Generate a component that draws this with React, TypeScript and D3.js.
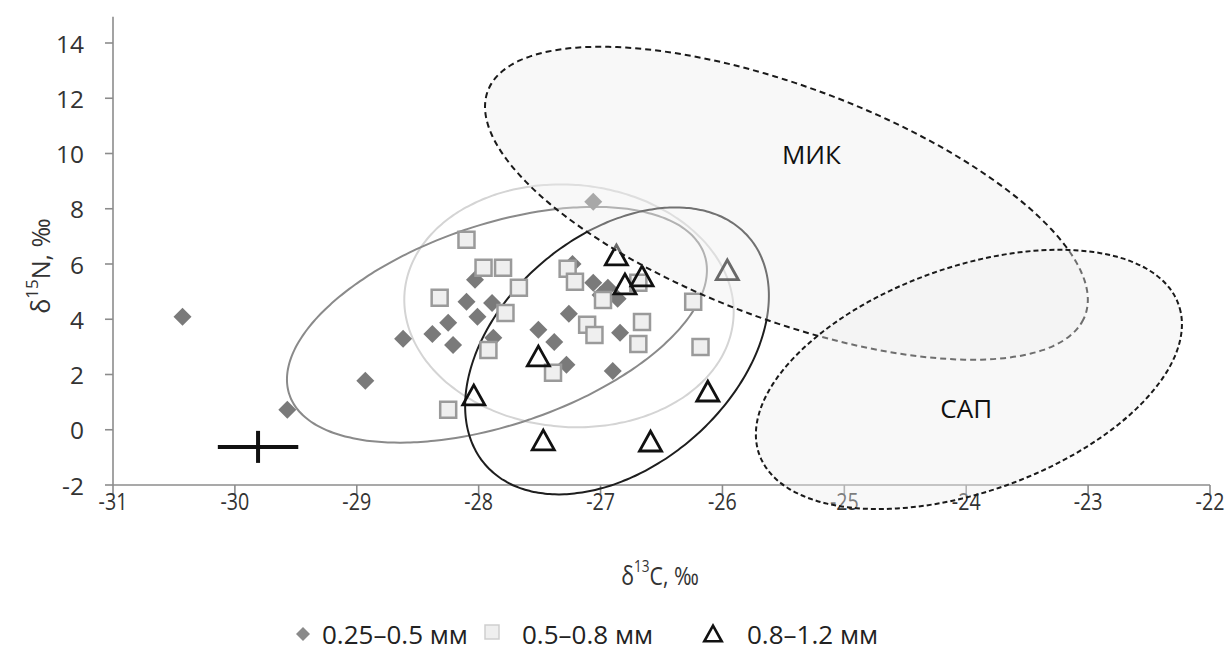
import React from "react";
import * as d3 from "d3";

// δ13C / δ15N per fraction size
const fineC = [-30.43, -29.57, -28.93, -28.62, -28.38, -28.25, -28.21, -28.10, -28.03, -28.01, -27.89, -27.88, -27.06, -27.51, -27.38, -27.28, -27.26, -27.23, -27.06, -27.0, -26.94, -26.86, -26.84, -26.90];
const fineN = [4.09, 0.72, 1.77, 3.29, 3.47, 3.87, 3.07, 4.63, 5.43, 4.09, 4.59, 3.33, 8.25, 3.62, 3.18, 2.35, 4.20, 6.0, 5.32, 4.88, 5.14, 4.74, 3.51, 2.13];

const midC = [-28.10, -28.32, -28.25, -27.96, -27.80, -27.67, -27.78, -27.92, -27.39, -27.27, -27.21, -26.98, -26.69, -27.11, -27.05, -26.66, -26.69, -26.24, -26.18];
const midN = [6.88, 4.78, 0.72, 5.86, 5.86, 5.14, 4.23, 2.89, 2.06, 5.83, 5.36, 4.70, 5.32, 3.80, 3.43, 3.90, 3.10, 4.63, 3.0];

const coarseC = [-28.04, -27.51, -26.87, -26.80, -26.66, -25.96, -26.12, -27.47, -26.59];
const coarseN = [1.19, 2.60, 6.26, 5.21, 5.50, 5.72, 1.33, -0.44, -0.48];

// analytical error: mean point with ± bars
const errC = -29.81;
const errN = -0.62;
const errDC = 0.33;
const errDN = 0.58;

const xTicks = [-31, -30, -29, -28, -27, -26, -25, -24, -23, -22];
const yTicks = [-2, 0, 2, 4, 6, 8, 10, 12, 14];

// ellipses: centre, end of one semi-axis, end of the conjugate semi-axis (data units)
const ellFine = { c: [-27.85, 3.80], u: [-26.147, 6.326], v: [-27.59, 0.36] };
const ellMid = { c: [-27.259, 4.486], u: [-25.910, 4.018], v: [-27.336, 0.116] };
const ellCoarse = { c: [-26.865, 2.855], u: [-25.783, 6.967], v: [-26.247, -0.319] };
const ellMik = { c: [-25.475, 8.199], u: [-23.025, 4.134], v: [-25.810, 4.254] };
const ellSap = { c: [-23.978, 1.822], u: [-22.258, 4.536], v: [-23.668, -2.007] };

const regionLabels = [
  { name: "МИК", c: -25.27, n: 9.97 },
  { name: "САП", c: -24.0, n: 0.8 },
];

const legendItems = ["0.25–0.5 мм", "0.5–0.8 мм", "0.8–1.2 мм"];

const W = 1232;
const H = 653;

const x = d3.scaleLinear().domain([-31, -22]).range([113, 1210]);
const y = d3.scaleLinear().domain([-2, 14]).range([485, 43]);

type Ell = { c: number[]; u: number[]; v: number[] };

function ellipsePath(e: Ell): string {
  const cx = x(e.c[0]);
  const cy = y(e.c[1]);
  const ux = x(e.u[0]) - cx;
  const uy = y(e.u[1]) - cy;
  const vx = x(e.v[0]) - cx;
  const vy = y(e.v[1]) - cy;
  const pts: [number, number][] = d3.range(0, 360, 2).map((deg) => {
    const t = (deg * Math.PI) / 180;
    return [cx + Math.cos(t) * ux + Math.sin(t) * vx, cy + Math.cos(t) * uy + Math.sin(t) * vy];
  });
  return d3.line().curve(d3.curveCardinalClosed)(pts) || "";
}

const diamond = (s: number) => `M0,${-s}L${s},0L0,${s}L${-s},0Z`;
const square = (s: number) => `M${-s},${-s}H${s}V${s}H${-s}Z`;
const triangle = (s: number) => `M0,${-s * 0.62}L${s * 0.58},${s * 0.42}L${-s * 0.58},${s * 0.42}Z`;

const textFont = "'Open Sans', 'Noto Sans', sans-serif";

export default function App() {
  const fine = fineC.map((c, i) => [c, fineN[i]]);
  const mid = midC.map((c, i) => [c, midN[i]]);
  const coarse = coarseC.map((c, i) => [c, coarseN[i]]);

  return (
    <svg
      width={W}
      height={H}
      style={{ position: "absolute", left: 0, top: 0, background: "#fff" }}
    >
      {/* axes */}
      <g stroke="#8c8c8c" strokeWidth={1.6}>
        <line x1={x(-31)} x2={x(-31)} y1={y(-2)} y2={y(14.95)} />
        <line x1={x(-31)} x2={x(-22)} y1={y(-2)} y2={y(-2)} />
        {yTicks.map((t) => (
          <line key={"yt" + t} x1={x(-31) - 8} x2={x(-31)} y1={y(t)} y2={y(t)} />
        ))}
        {xTicks.map((t) => (
          <line key={"xt" + t} x1={x(t)} x2={x(t)} y1={y(-2)} y2={y(-2) + 9} />
        ))}
      </g>
      <g fontFamily={textFont} fontSize={24.5} fill="#333">
        {yTicks.map((t) => (
          <text key={"yl" + t} x={x(-31) - 29} y={y(t)} textAnchor="end" dominantBaseline="central">
            {t}
          </text>
        ))}
      </g>
      <g fontFamily={textFont} fontSize={24} fill="#333">
        {xTicks.map((t) => (
          <text
            key={"xl" + t}
            transform={`translate(${x(t)},${y(-2) + 16}) scale(0.82,1)`}
            textAnchor="middle"
            dominantBaseline="central"
          >
            {t}
          </text>
        ))}
      </g>
      <text
        transform="translate(660,575) scale(0.85,1)"
        textAnchor="middle"
        dominantBaseline="central"
        fontFamily={textFont}
        fontSize={25}
        fill="#333"
      >
        δ<tspan fontSize={16} dy={-9}>13</tspan>
        <tspan dy={9}>C, ‰</tspan>
      </text>
      <text
        transform={`translate(40,266) rotate(-90)`}
        textAnchor="middle"
        dominantBaseline="central"
        fontFamily={textFont}
        fontSize={25}
        fill="#333"
      >
        δ<tspan fontSize={17} dy={-9}>15</tspan>
        <tspan dy={9}>N, ‰</tspan>
      </text>

      {/* group ellipses */}
      <path d={ellipsePath(ellMid)} fill="none" stroke="#d4d4d4" strokeWidth={2} />
      <path d={ellipsePath(ellFine)} fill="none" stroke="#8a8a8a" strokeWidth={2} />
      <path d={ellipsePath(ellCoarse)} fill="none" stroke="#1e1e1e" strokeWidth={2} />

      {/* measurements */}
      <g fill="#7a7a7a">
        {fine.map((p, i) => (
          <path key={"f" + i} d={diamond(9)} transform={`translate(${x(p[0])},${y(p[1])})`} />
        ))}
      </g>
      <g fill="#efefef" stroke="#9a9a9a" strokeWidth={2.5}>
        {mid.map((p, i) => (
          <path key={"m" + i} d={square(8)} transform={`translate(${x(p[0])},${y(p[1])})`} />
        ))}
      </g>
      <g fill="none" stroke="#111" strokeWidth={2.8} strokeLinejoin="miter">
        {coarse.map((p, i) => (
          <path key={"c" + i} d={triangle(19)} transform={`translate(${x(p[0])},${y(p[1])})`} />
        ))}
      </g>

      {/* error bars */}
      <g stroke="#111" strokeWidth={4}>
        <line x1={x(errC - errDC)} x2={x(errC + errDC)} y1={y(errN)} y2={y(errN)} />
        <line x1={x(errC)} x2={x(errC)} y1={y(errN - errDN)} y2={y(errN + errDN)} />
      </g>

      {/* source regions */}
      <path
        d={ellipsePath(ellMik)}
        fill="#eeeeee"
        fillOpacity={0.4}
        stroke="#1a1a1a"
        strokeWidth={2}
        strokeDasharray="6,4"
      />
      <path
        d={ellipsePath(ellSap)}
        fill="#eeeeee"
        fillOpacity={0.4}
        stroke="#1a1a1a"
        strokeWidth={2}
        strokeDasharray="5,3"
      />
      <g fontFamily={textFont} fontSize={26} fill="#111">
        {regionLabels.map((r) => (
          <text key={r.name} x={x(r.c)} y={y(r.n)} textAnchor="middle" dominantBaseline="central">
            {r.name}
          </text>
        ))}
      </g>

      {/* legend */}
      <g fontFamily={textFont} fontSize={26} fill="#222">
        <path d={diamond(7)} transform="translate(303,634)" fill="#8a8a8a" />
        <text x={322} y={634} dominantBaseline="central">{legendItems[0]}</text>
        <path d={square(7)} transform="translate(492,632)" fill="#efefef" stroke="#cfcfcf" strokeWidth={1.5} />
        <text x={522} y={634} dominantBaseline="central">{legendItems[1]}</text>
        <path d={triangle(15)} transform="translate(713,635)" fill="none" stroke="#111" strokeWidth={2.6} />
        <text x={747} y={634} dominantBaseline="central">{legendItems[2]}</text>
      </g>
    </svg>
  );
}
